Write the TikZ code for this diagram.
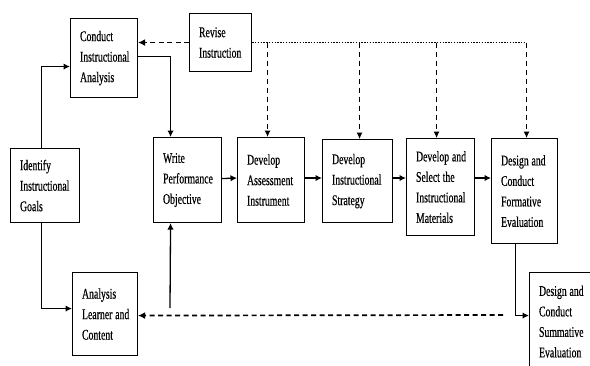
\documentclass[tikz,border=0pt]{standalone}
\usepackage{fontspec}
\setmainfont{Liberation Serif}[FakeStretch=0.66,FakeBold=0.4]
\usetikzlibrary{arrows.meta}
\newcommand{\ws}{\kern2.8pt}
\tikzset{
  box/.style={draw=black, line width=1.1pt, align=left, inner xsep=9.5pt, inner ysep=0pt, anchor=north west, font=\fontsize{14.8}{20.5}\selectfont, fill=white},
  arr/.style={line width=1.3pt, -{Latex[length=6.5pt,width=6.5pt]}},
  darr/.style={line width=1.7pt, dash pattern=on 5pt off 3.5pt, -{Latex[length=7pt,width=7pt]}},
  vdarr/.style={line width=1pt, dash pattern=on 5pt off 4pt, -{Latex[length=6.5pt,width=6pt]}},
  dotline/.style={line width=1.1pt, dash pattern=on 1.4pt off 1.4pt}
}
\newcommand{\bx}[6]{\node[box, minimum width=#4pt-#2pt, minimum height=#5pt-#3pt, text width=#4pt-#2pt-19pt] (#1) at (#2,#3) {#6};}
\begin{document}
\begin{tikzpicture}[x=1pt,y=-1pt]
\clip (0,0) rectangle (590,365);
\fill[white] (0,0) rectangle (590,365);
\bx{ca}{70}{18}{137}{97}{Conduct\\Instructional\\Analysis}
\bx{ri}{189}{13}{251}{71}{Revise\\Instruction}
\bx{id}{10}{148}{79}{222}{Identify\\Instructional\\Goals}
\bx{wp}{153}{137}{221}{222}{Write\\Performance\\Objective}
\bx{da}{237}{137}{304}{222}{Develop\\Assessment\\Instrument}
\bx{ds}{322}{139}{392}{222}{Develop\\Instructional\\Strategy}
\bx{sm}{406}{138}{474}{235}{Develop\ws and\\Select\ws the\\Instructional\\Materials}
\bx{fe}{491}{138}{557}{243}{Design\ws and\\Conduct\\Formative\\Evaluation}
\bx{se}{529}{272}{600}{370}{Design\ws and\\Conduct\\Summative\\Evaluation}
\bx{al}{72}{272}{137}{355}{Analysis\\Learner\ws and\\Content}
\coordinate (s1) at (170,308);
\coordinate (s2) at (503,315);
% solid arrows
\draw[arr] ([xshift=-3.5pt]id.north) |- ([yshift=-8.5pt]ca.west);
\draw[arr] ([xshift=-3.5pt]id.south) |- ([yshift=5.5pt]al.west);
\draw[arr] ([yshift=1.5pt]ca.east) -| ([xshift=-17pt]wp.north);
\draw[arr] (s1) -- ([xshift=-17pt]wp.south);
\draw[arr] ([yshift=1.5pt]wp.east) -- (da.west |- {(0,178)});
\draw[arr] (da.east |- {(0,178)}) -- (ds.west |- {(0,178)});
\draw[arr] (ds.east |- {(0,178)}) -- (sm.west |- {(0,178)});
\draw[arr] (sm.east |- {(0,178)}) -- (fe.west |- {(0,178)});
\draw[arr] ([xshift=-9pt]fe.south) |- ([yshift=6pt]se.west);
% dashed feedback
\draw[darr] (ri.west) -- (ca.east |- ri.west);
\draw[darr] (s2) -- ([yshift=-1.5pt]al.east);
\draw[dotline] (ri.east) -- (fe.north |- ri.east);
\draw[vdarr] ([xshift=-3.5pt]da.north |- ri.east) -- ([xshift=-3.5pt]da.north);
\draw[vdarr] ([xshift=2pt]ds.north |- ri.east) -- ([xshift=2pt]ds.north);
\draw[vdarr] ([xshift=-4pt]sm.north |- ri.east) -- ([xshift=-4pt]sm.north);
\draw[vdarr] ([xshift=2pt]fe.north |- ri.east) -- ([xshift=2pt]fe.north);
\end{tikzpicture}
\end{document}
